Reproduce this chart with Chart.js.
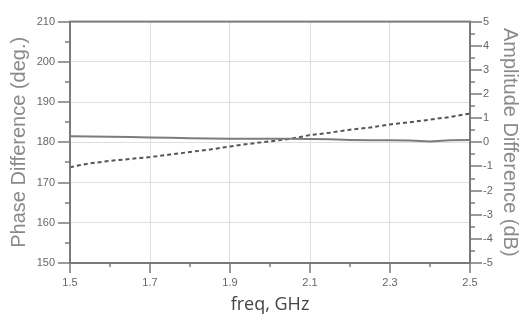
<!DOCTYPE html>
<html>
<head>
<meta charset="utf-8">
<script src="https://cdn.jsdelivr.net/npm/chart.js@4"></script>
<style>
  html, body { margin: 0; padding: 0; background: #fff; }
  #wrap { width: 522px; height: 322px; }
</style>
</head>
<body>
<div id="wrap"><canvas id="c" width="522" height="322"></canvas></div>
<script>
// Frequency points (GHz)
const freq = [1.50, 1.55, 1.60, 1.65, 1.70, 1.75, 1.80, 1.85, 1.90, 1.95, 2.00,
              2.05, 2.10, 2.15, 2.20, 2.25, 2.30, 2.35, 2.40, 2.45, 2.50];
// Phase difference (deg.) - solid line, left axis
const phaseDeg = [181.5, 181.45, 181.4, 181.3, 181.2, 181.1, 181.0, 180.95, 180.9, 180.9, 180.9,
                  180.88, 180.85, 180.75, 180.6, 180.5, 180.5, 180.45, 180.2, 180.5, 180.6];
// Amplitude difference (dB) - dashed line, right axis
const ampDb = [-1.03, -0.87, -0.77, -0.69, -0.61, -0.51, -0.40, -0.30, -0.17, -0.06, 0.04,
               0.14, 0.30, 0.40, 0.52, 0.61, 0.74, 0.83, 0.94, 1.05, 1.19];
// Tick labels
const xTickLabels = ['1.5', '1.7', '1.9', '2.1', '2.3', '2.5'];
const leftTickLabels = ['150', '160', '170', '180', '190', '200', '210'];
const rightTickLabels = ['-5', '-4', '-3', '-2', '-1', '0', '1', '2', '3', '4', '5'];

const AXIS = '#7a7a7a';
const GRID = '#dedede';

const framePlugin = {
  id: 'frame',
  afterDatasetsDraw(chart) {
    const { ctx, chartArea: a, scales } = chart;
    ctx.save();
    ctx.strokeStyle = AXIS;
    ctx.lineWidth = 2;
    ctx.strokeRect(a.left, a.top, a.right - a.left, a.bottom - a.top);
    ctx.lineWidth = 1.5;
    ctx.beginPath();
    scales.x.ticks.forEach((t, i) => {
      const px = Math.round(scales.x.getPixelForValue(t.value));
      const len = i % 2 === 0 ? 10 : 4;
      ctx.moveTo(px, a.bottom); ctx.lineTo(px, a.bottom + len);
    });
    scales.yL.ticks.forEach((t, i) => {
      const py = Math.round(scales.yL.getPixelForValue(t.value));
      const len = i % 2 === 0 ? 12 : 5;
      ctx.moveTo(a.left, py); ctx.lineTo(a.left - len, py);
    });
    scales.yR.ticks.forEach((t, i) => {
      const py = Math.round(scales.yR.getPixelForValue(t.value));
      const len = i % 2 === 0 ? 12 : 5;
      ctx.moveTo(a.right, py); ctx.lineTo(a.right + len, py);
    });
    ctx.stroke();
    ctx.restore();
  }
};

const tickFont = { family: 'Liberation Sans, Arial, sans-serif', size: 11 };
const titleFont = { family: 'Liberation Sans, Arial, sans-serif', size: 20 };

new Chart(document.getElementById('c'), {
  type: 'line',
  data: {
    datasets: [
      {
        label: 'Phase Difference',
        data: freq.map((f, i) => ({ x: f, y: phaseDeg[i] })),
        yAxisID: 'yL',
        borderColor: '#7c7c7c',
        borderWidth: 2,
        pointRadius: 0,
        tension: 0,
        fill: false
      },
      {
        label: 'Amplitude Difference',
        data: freq.map((f, i) => ({ x: f, y: ampDb[i] })),
        yAxisID: 'yR',
        borderColor: '#555555',
        borderWidth: 2,
        borderDash: [4, 3],
        pointRadius: 0,
        tension: 0,
        fill: false
      }
    ]
  },
  options: {
    responsive: false,
    animation: false,
    devicePixelRatio: 1,
    layout: { padding: { top: 11, left: 0, right: 0, bottom: 0 } },
    plugins: { legend: { display: false }, tooltip: { enabled: false } },
    scales: {
      x: {
        type: 'linear',
        position: 'bottom',
        min: 1.5, max: 2.5,
        afterFit: s => { s.height = 59; },
        afterBuildTicks: s => { s.ticks = freq.filter((f, i) => i % 2 === 0).map(v => ({ value: v })); },
        ticks: {
          autoSkip: false, maxRotation: 0, padding: 13,
          color: '#666', font: tickFont,
          callback: (v, i) => (i % 2 === 0 ? xTickLabels[i / 2] : '')
        },
        grid: {
          drawTicks: false,
          color: c => (c.index % 2 === 0 && c.index > 0 && c.index < 10) ? GRID : 'rgba(0,0,0,0)',
          lineWidth: 1
        },
        border: { display: false },
        title: {
          display: true, text: 'freq, GHz', color: '#444',
          font: { family: 'Open Sans, sans-serif', size: 18 },
          padding: { top: 0, bottom: 6 }
        }
      },
      yL: {
        type: 'linear',
        position: 'left',
        min: 150, max: 210,
        afterFit: s => { s.width = 70; },
        ticks: {
          stepSize: 5, autoSkip: false, padding: 15,
          color: '#666', font: tickFont,
          callback: (v, i) => (i % 2 === 0 ? leftTickLabels[i / 2] : '')
        },
        grid: {
          drawTicks: false,
          color: c => (c.index % 2 === 0 && c.index > 0 && c.index < 12) ? GRID : 'rgba(0,0,0,0)',
          lineWidth: 1
        },
        border: { display: false },
        title: {
          display: true, text: 'Phase Difference (deg.)', color: '#8a8a8a',
          font: titleFont, padding: { top: 7, bottom: 0 }
        }
      },
      yR: {
        type: 'linear',
        position: 'right',
        min: -5, max: 5,
        afterFit: s => { s.width = 52; },
        ticks: {
          stepSize: 0.5, autoSkip: false, padding: 13,
          color: '#666', font: tickFont,
          callback: (v, i) => (i % 2 === 0 ? rightTickLabels[i / 2] : '')
        },
        grid: { display: false, drawTicks: false },
        border: { display: false },
        title: {
          display: true, text: 'Amplitude Difference (dB)', color: '#8a8a8a',
          font: titleFont, padding: { top: 0, bottom: 0 }
        }
      }
    }
  },
  plugins: [framePlugin]
});
</script>
</body>
</html>
